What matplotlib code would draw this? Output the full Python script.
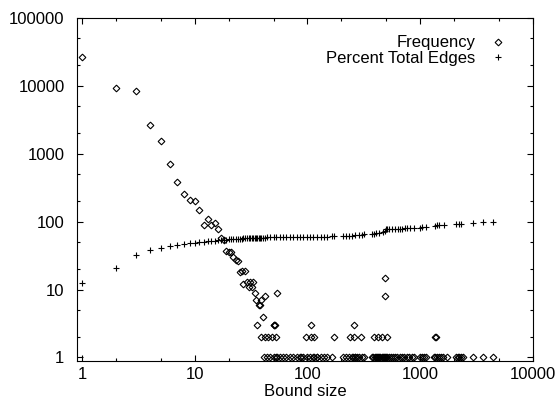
import matplotlib
matplotlib.use("Agg")
import matplotlib.pyplot as plt
from matplotlib.ticker import LogLocator, FixedLocator, FixedFormatter, NullFormatter

plt.rcParams['font.family'] = ['Liberation Sans', 'DejaVu Sans']

# frequency of each bound size (steep head of the distribution)
head_size = [1, 2, 3, 4, 5, 6, 7, 8, 9, 10, 11, 12, 13, 14, 15, 16, 17, 18, 19, 20,
             21, 22, 23, 24, 25, 26, 27, 28, 29, 30, 31, 32, 33, 34, 35, 36, 37, 38,
             39, 40, 42, 54, 485, 487]
head_count = [26300, 9350, 8400, 2650, 1550, 700, 385, 252, 210, 202, 147, 90, 111, 88,
              97, 79, 58, 54, 37, 36, 36, 30, 27, 26, 18, 19, 12, 19, 13, 11, 13, 11,
              13, 9, 7, 3, 6, 6, 7, 4, 8, 9, 15, 8]

# tail sizes with count 1, 2 and 3
ones = [41, 44, 47, 50, 53, 54, 57, 61, 65, 70, 75, 80, 86, 87, 92, 99, 106, 113, 114,
        121, 122, 131, 140, 150, 165, 205, 218, 234, 250, 255, 262, 267, 275, 287, 307,
        318, 376, 385, 395, 405, 415, 425, 435, 445, 455, 465, 475, 487, 500, 512, 525,
        550, 575, 600, 630, 660, 690, 720, 760, 800, 850, 890, 1000, 1040, 1080, 1140,
        1330, 1370, 1420, 1480, 1540, 1600, 1750, 2070, 2150, 2220, 2300, 2400, 2950,
        3650, 4400]
twos = [39, 42, 45, 48, 53, 98, 107, 115, 172, 239, 259, 297, 388, 425, 462, 508, 1370, 1380]
threes = [50, 51, 52, 108, 259]

# cumulative percent of total edges
pct_size = [1, 2, 3, 4, 5, 6, 7, 8, 9, 10, 11, 12, 13, 14, 15, 16, 17, 18, 19, 20, 21,
            22, 23, 24, 25, 26, 27, 28, 29, 30, 31, 32, 33, 34, 35, 36, 37, 38, 39, 40,
            42, 44, 47, 50, 53, 57, 61, 65, 70, 75, 80, 86, 92, 99, 106, 113, 121, 131,
            140, 150, 165, 172, 205, 218, 234, 250, 267, 287, 307, 318, 376, 388, 405,
            430, 464, 485, 497, 512, 532, 568, 600, 631, 660, 697, 730, 773, 820, 883,
            1000, 1050, 1120, 1370, 1420, 1480, 1630, 2070, 2200, 2300, 2950, 3650, 4400]
pct_val = [12.3, 21, 32.7, 37.9, 41.5, 43.9, 45.4, 46.9, 48, 49, 50, 50.6, 51.3, 51.9,
           52.5, 53, 53.5, 54, 54.4, 54.8, 55.1, 55.4, 55.7, 56, 56.2, 56.4, 56.6, 56.8,
           57, 57.1, 57.3, 57.4, 57.5, 57.6, 57.7, 57.8, 57.9, 58, 58.1, 58.2, 58.3, 58.4,
           58.5, 58.6, 58.7, 58.8, 58.9, 59, 59.1, 59.2, 59.3, 59.4, 59.5, 59.6, 59.7,
           59.8, 59.9, 60, 60.1, 60.2, 60.4, 60.5, 61, 61.3, 61.8, 62.3, 63, 63.8, 64.5,
           65, 66, 66.5, 67, 68, 70, 72, 77.5, 78, 78.2, 78.4, 78.6, 78.8, 79, 79.2, 79.4,
           79.6, 79.8, 80, 81.5, 82, 83, 87, 87.8, 88.5, 90, 92.5, 93, 93.5, 95.5, 97.5, 100]

x_ticks = [1, 10, 100, 1000, 10000]
y_ticks = [1, 10, 100, 1000, 10000, 100000]

freq_size = head_size + ones + twos + threes
freq_count = head_count + [1] * len(ones) + [2] * len(twos) + [3] * len(threes)

fig = plt.figure(figsize=(5.58, 4.04), dpi=100)
ax = fig.add_axes([77 / 558, 1 - 360.5 / 404, 455.7 / 558, 342.5 / 404])

ax.plot(freq_size, freq_count, linestyle='none', marker='D', ms=3.4, mfc='none',
        mec='black', mew=0.8, label='Frequency')
ax.plot(pct_size, pct_val, linestyle='none', marker='+', ms=5, mec='black',
        mew=0.8, label='Percent Total Edges')

ax.set_xscale('log')
ax.set_yscale('log')
ax.set_xlim(0.9, 10000)
ax.set_ylim(0.9, 100000)

ax.xaxis.set_major_locator(FixedLocator(x_ticks))
ax.xaxis.set_major_formatter(FixedFormatter([str(t) for t in x_ticks]))
ax.yaxis.set_major_locator(FixedLocator(y_ticks))
ax.yaxis.set_major_formatter(FixedFormatter([str(t) for t in y_ticks]))
ax.xaxis.set_minor_locator(LogLocator(base=10, subs=(2, 5)))
ax.yaxis.set_minor_locator(LogLocator(base=10, subs=(2, 5)))
ax.xaxis.set_minor_formatter(NullFormatter())
ax.yaxis.set_minor_formatter(NullFormatter())

ax.tick_params(which='both', direction='in', top=True, right=True, labelsize=12,
               width=0.8, color='black')
ax.tick_params(which='major', length=4.5)
ax.tick_params(which='minor', length=2.5)
ax.tick_params(axis='y', pad=9)
ax.tick_params(axis='x', pad=5)
for s in ax.spines.values():
    s.set_linewidth(0.8)

ax.set_xlabel('Bound size', fontsize=12, labelpad=1)

ax.legend(loc='upper right', bbox_to_anchor=(0.9506, 0.949), frameon=False,
          markerfirst=False, fontsize=12, handlelength=1.5, handletextpad=0.6,
          borderpad=0, borderaxespad=0, labelspacing=0.05, numpoints=1)

fig.savefig('out.png', dpi=100)
